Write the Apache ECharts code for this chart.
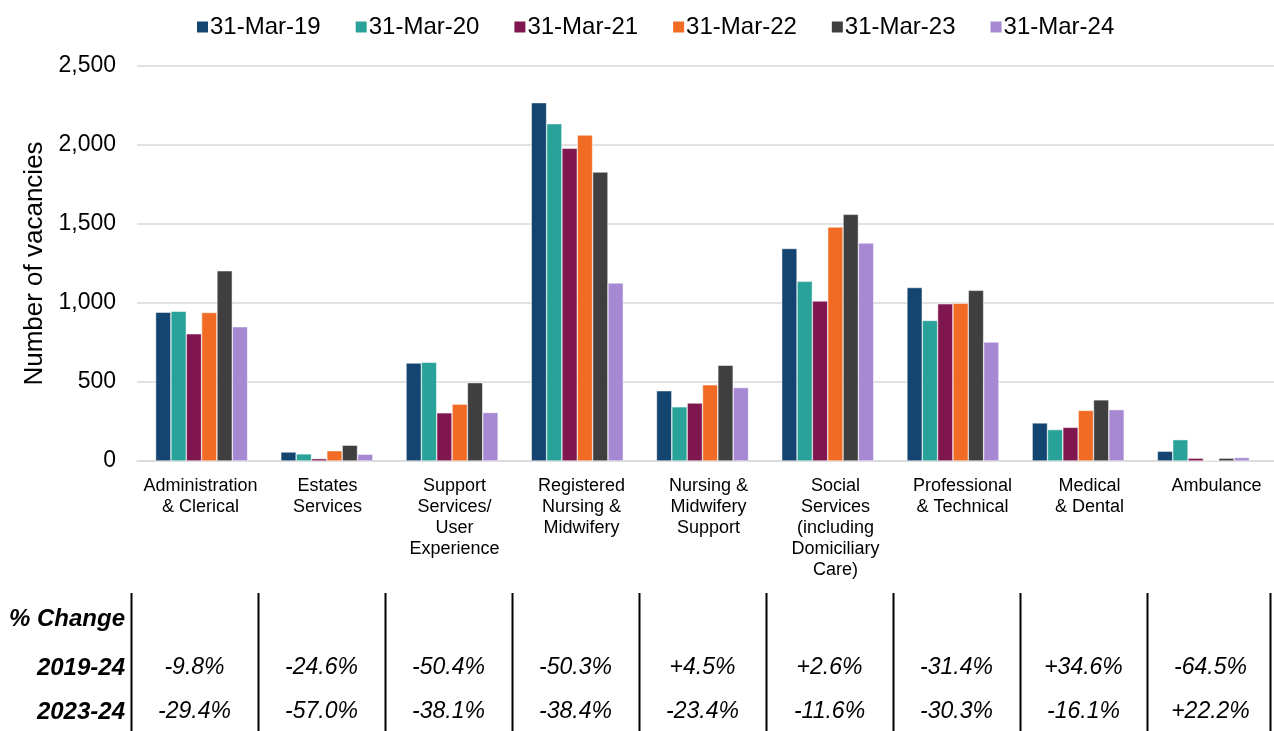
<!DOCTYPE html>
<html>
<head>
<meta charset="utf-8">
<script src="https://cdn.jsdelivr.net/npm/echarts@6/dist/echarts.min.js"></script>
<style>
  html, body { margin: 0; padding: 0; background: #fff; }
  #chart { width: 1274px; height: 731px; }
</style>
</head>
<body>
<div id="chart"></div>
<script>
// categories (x axis)
const categories = [
  "Administration\n& Clerical",
  "Estates\nServices",
  "Support\nServices/\nUser\nExperience",
  "Registered\nNursing &\nMidwifery",
  "Nursing &\nMidwifery\nSupport",
  "Social\nServices\n(including\nDomiciliary\nCare)",
  "Professional\n& Technical",
  "Medical\n& Dental",
  "Ambulance"
];
// series names
const seriesNames = ["31-Mar-19", "31-Mar-20", "31-Mar-21", "31-Mar-22", "31-Mar-23", "31-Mar-24"];
// vacancies per date
const mar19 = [942, 57, 620, 2268, 445, 1345, 1098, 241, 62];
const mar20 = [948, 45, 625, 2135, 343, 1137, 890, 199, 135];
const mar21 = [805, 15, 305, 1979, 367, 1013, 995, 213, 18];
const mar22 = [940, 65, 360, 2063, 482, 1481, 998, 320, 4];
const mar23 = [1204, 100, 496, 1829, 606, 1561, 1080, 387, 18];
const mar24 = [850, 43, 307, 1127, 465, 1380, 753, 325, 22];
// % change table
const tableRowLabels = ["2019-24", "2023-24"];
const change1924 = ["-9.8%", "-24.6%", "-50.4%", "-50.3%", "+4.5%", "+2.6%", "-31.4%", "+34.6%", "-64.5%"];
const change2324 = ["-29.4%", "-57.0%", "-38.1%", "-38.4%", "-23.4%", "-11.6%", "-30.3%", "-16.1%", "+22.2%"];
// y ticks
const yMin = 0, yMax = 2500, yStep = 500;

const colors = ["#144570", "#29A399", "#7F164F", "#F26B24", "#3F3F3F", "#A689D2"];
const allData = [mar19, mar20, mar21, mar22, mar23, mar24];
const font = "Liberation Sans, Arial, sans-serif";

const chart = echarts.init(document.getElementById("chart"));

chart.setOption({
  animation: false,
  color: colors,
  textStyle: { fontFamily: font },
  legend: {
    top: 10,
    left: 190,
    itemWidth: 13,
    itemHeight: 13,
    itemGap: 33,
    icon: "rect",
    textStyle: { fontSize: 24, color: "#000", padding: [0, 0, 0, -4] },
    data: seriesNames
  },
  // grid 0: gridlines, y labels and category labels; grid 1: the bars
  grid: [
    { left: 137, width: 1143, top: 66, bottom: 270, outerBoundsMode: "none" },
    { left: 139, width: 1127, top: 66, bottom: 270, outerBoundsMode: "none" }
  ],
  xAxis: [
    {
      type: "category",
      gridIndex: 0,
      data: categories,
      axisTick: { show: false },
      axisLine: { lineStyle: { color: "#d9d9d9", width: 1.5 } },
      axisLabel: {
        interval: 0,
        fontSize: 18,
        color: "#000",
        lineHeight: 21,
        verticalAlign: "top",
        margin: 15
      }
    },
    {
      type: "category",
      gridIndex: 1,
      data: categories,
      show: false
    }
  ],
  yAxis: [
    {
      type: "value",
      gridIndex: 0,
      min: yMin,
      max: yMax,
      interval: yStep,
      name: "Number of vacancies",
      nameLocation: "middle",
      nameGap: 89,
      nameTextStyle: { fontSize: 26, color: "#000" },
      axisLabel: {
        fontSize: 23,
        color: "#000",
        margin: 21,
        formatter: v => v.toLocaleString("en-US")
      },
      splitLine: { lineStyle: { color: "#d9d9d9", width: 1.5 } }
    },
    {
      type: "value",
      gridIndex: 1,
      min: yMin,
      max: yMax,
      interval: yStep,
      show: false,
      splitLine: { show: false }
    }
  ],
  series: seriesNames.map((name, i) => ({
    name,
    type: "bar",
    xAxisIndex: 1,
    yAxisIndex: 1,
    data: allData[i],
    barGap: "0%",
    barCategoryGap: "26.5%",
    itemStyle: { borderColor: "#fff", borderWidth: 0.5 }
  }))
});

// table of % change under the chart, placed from the label axis
function drawTable() {
  const els = [];
  const x0 = chart.convertToPixel({ xAxisIndex: 0 }, 0);
  const step = chart.convertToPixel({ xAxisIndex: 0 }, 1) - x0;
  const rowY = [668, 712];
  for (let i = 0; i <= categories.length; i++) {
    const x = Math.round(Math.min(x0 - step / 2 + i * step - 6, 1270)) + 0.5;
    els.push({
      type: "line",
      shape: { x1: x, y1: 593, x2: x, y2: 731 },
      style: { stroke: "#000", lineWidth: 2 }
    });
  }
  els.push({
    type: "text", x: 125, y: 619,
    style: { text: "% Change", font: "italic bold 24px " + font, fill: "#000", align: "right", verticalAlign: "middle" }
  });
  tableRowLabels.forEach((lab, r) => {
    els.push({
      type: "text", x: 125, y: rowY[r],
      style: { text: lab, font: "italic bold 24px " + font, fill: "#000", align: "right", verticalAlign: "middle" }
    });
  });
  [change1924, change2324].forEach((row, r) => {
    row.forEach((v, i) => {
      const cx = chart.convertToPixel({ xAxisIndex: 0 }, i) - 6;
      els.push({
        type: "text", x: cx, y: rowY[r],
        style: { text: v, font: "italic 23px " + font, fill: "#000", align: "center", verticalAlign: "middle" }
      });
    });
  });
  chart.setOption({ graphic: els });
}
drawTable();
</script>
</body>
</html>
